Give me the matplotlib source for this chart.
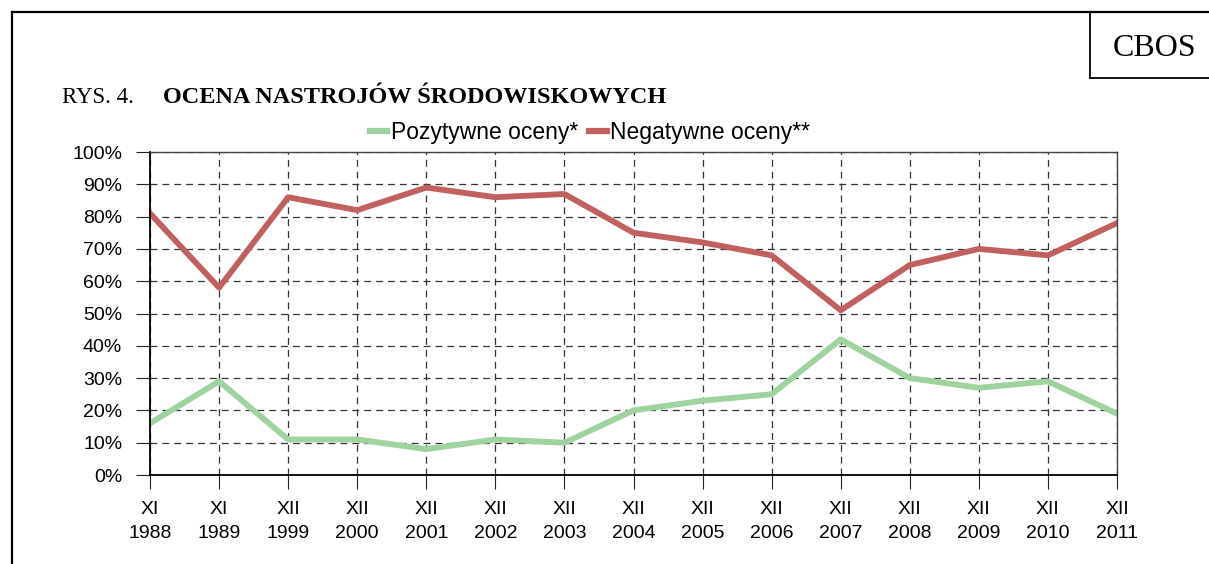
import matplotlib
matplotlib.use("Agg")
import matplotlib.pyplot as plt
from matplotlib.lines import Line2D

# data
months = ["XI", "XI", "XII", "XII", "XII", "XII", "XII", "XII", "XII", "XII", "XII", "XII", "XII", "XII", "XII"]
years = ["1988", "1989", "1999", "2000", "2001", "2002", "2003", "2004", "2005", "2006", "2007", "2008", "2009", "2010", "2011"]
pozytywne = [16, 29, 11, 11, 8, 11, 10, 20, 23, 25, 42, 30, 27, 29, 19]
negatywne = [81, 58, 86, 82, 89, 86, 87, 75, 72, 68, 51, 65, 70, 68, 78]

green = "#9ed29e"
red = "#c0605f"
sans = ["Liberation Sans", "DejaVu Sans"]
serif = ["Liberation Serif", "DejaVu Serif"]

fig = plt.figure(figsize=(12.09, 5.64), dpi=100)
ax = fig.add_axes([150/1209, 1 - 475/564, 967/1209, (475-152)/564])

x = list(range(len(years)))
ax.plot(x, pozytywne, color=green, lw=4.2, solid_joinstyle="round", label="Pozytywne oceny*")
ax.plot(x, negatywne, color=red, lw=4.2, solid_joinstyle="round", label="Negatywne oceny**")

ax.set_xlim(0, len(years) - 1)
ax.set_ylim(0, 100)
ax.set_yticks(range(0, 101, 10))
ax.set_yticklabels([f"{v}%" for v in range(0, 101, 10)], family=sans, fontsize=14)
ax.set_xticks(x)
ax.set_xticklabels([f"{m}\n{y}" for m, y in zip(months, years)], family=sans, fontsize=14, linespacing=1.5)
ax.tick_params(axis="x", length=10, pad=9, color="#222222")
ax.tick_params(axis="y", length=10, pad=10, color="#222222")

ax.grid(True, ls=(0, (5.5, 4)), color="#333333", lw=0.9)
for s in ["left", "bottom"]:
    ax.spines[s].set_linewidth(1.3)
for s in ["top", "right"]:
    ax.spines[s].set_linewidth(1.0)
    ax.spines[s].set_color("#444444")

handles = [Line2D([], [], color=green, lw=4.5), Line2D([], [], color=red, lw=4.5)]
ax.legend(handles, ["Pozytywne oceny*", "Negatywne oceny**"], ncol=2, loc="lower center",
          bbox_to_anchor=(0.455, 0.975), frameon=False, handlelength=0.75, handletextpad=0.15,
          columnspacing=0.5, borderpad=0.2, prop={"family": sans, "size": 16.5})

# page frame and CBOS box
fig.add_artist(Line2D([12/1209, 1], [1 - 12/564, 1 - 12/564], color="black", lw=1.6))
fig.add_artist(Line2D([12/1209, 12/1209], [0, 1 - 12/564], color="black", lw=1.6))
fig.add_artist(Line2D([1090/1209, 1090/1209], [1 - 12/564, 1 - 78/564], color="black", lw=1.3))
fig.add_artist(Line2D([1090/1209, 1], [1 - 78/564, 1 - 78/564], color="black", lw=1.3))
fig.text(1155/1209, 1 - 56/564, "CBOS", ha="center", va="baseline", family=serif, fontsize=23)

fig.text(62/1209, 1 - 103/564, "RYS. 4.", ha="left", va="baseline", family=serif, fontsize=16.5)
fig.text(163/1209, 1 - 103/564, "OCENA NASTROJÓW ŚRODOWISKOWYCH", ha="left", va="baseline",
         family=serif, fontsize=17.5, fontweight="bold")

fig.savefig("out.png", dpi=100)
